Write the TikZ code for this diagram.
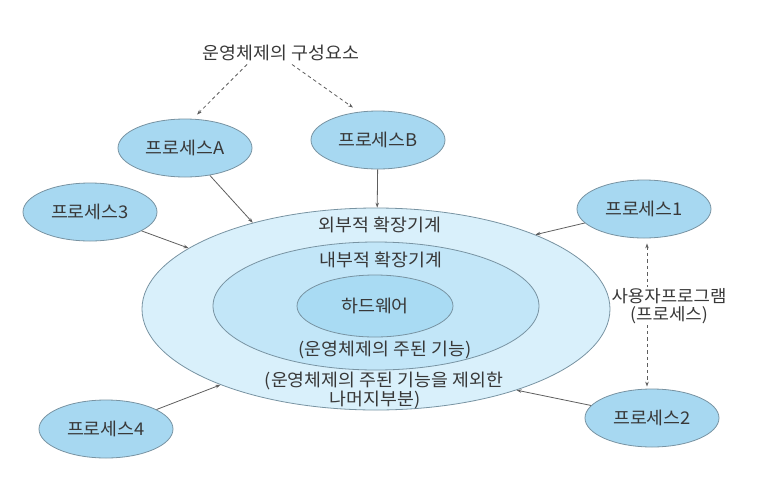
\documentclass[tikz,border=0pt]{standalone}
\usepackage{fontspec}
\setmainfont{Noto Sans CJK KR}[FakeStretch=1.05]
\usetikzlibrary{shapes.geometric,arrows.meta}
\definecolor{ringout}{HTML}{D9F0FB}
\definecolor{ringmid}{HTML}{C2E6F8}
\definecolor{ringin}{HTML}{A9DBF3}
\definecolor{procfill}{HTML}{A7D8F1}
\definecolor{edgegray}{HTML}{7893A2}
\definecolor{txtgray}{HTML}{383838}
\definecolor{linegray}{HTML}{5E5E5E}

\begin{document}
\begin{tikzpicture}[x=1pt,y=-1pt,
    every node/.style={font=\fontsize{17.5}{19.5}\selectfont,text=txtgray},
    ring/.style={ellipse,draw=edgegray,line width=0.8pt,inner sep=0pt},
    proc/.style={ring,fill=procfill,minimum width=134pt,minimum height=58pt},
    link/.style={draw=linegray,line width=0.8pt,-{Stealth[length=5pt,width=3.5pt]}},
    dasharrow/.style={link,dash pattern=on 3.5pt off 3pt}]
  \useasboundingbox (0,0) rectangle (772,499);
  % layers of the system
  \node[ring,fill=ringout,minimum width=468pt,minimum height=202pt] (os) at (376,309) {};
  \node[ring,fill=ringmid,minimum width=326pt,minimum height=128pt] (kernel) at (376,306) {};
  \node[ring,fill=ringin,minimum width=156pt,minimum height=62pt] (hw) at (375,306) {하드웨어};
  \node (extlbl) at (380,225) {외부적 확장기계};
  \node (intlbl) at (381,260) {내부적 확장기계};
  \node (mainlbl) at (385,350) {(운영체제의 주된 기능)};
  \node (restlbl) at (384,381) {(운영체제의 주된 기능을 제외한};
  \node (restlbl2) at (375,400) {나머지부분)};
  % processes
  \node (title) at (281,53) {운영체제의 구성요소};
  \node[proc] (pA) at (185,148) {프로세스A};
  \node[proc] (pB) at (378,140) {프로세스B};
  \node[proc] (p3) at (90,212) {프로세스3};
  \node[proc] (p4) at (106,429) {프로세스4};
  \node[proc] (p1) at (644,209) {프로세스1};
  \node[proc] (p2) at (652,418) {프로세스2};
  \draw[dasharrow] ([xshift=-34pt]title.south) -- ([xshift=12pt,yshift=4pt]pA.north);
  \draw[dasharrow] ([xshift=11pt]title.south) -- ([xshift=-25pt,yshift=3pt]pB.north);
  \draw[link] (pA) -- (os.145);
  \draw[link] (pB) -- (os);
  \draw[link] (p3) -- (os.162);
  \draw[link] (p4) -- (os.206);
  \draw[link] (p1) -- (os.25);
  \draw[link] (p2) -- (os.330);
  \draw[dasharrow,{Stealth[length=5pt,width=3.5pt]}-{Stealth[length=5pt,width=3.5pt]}]
    ([xshift=3pt,yshift=-5pt]p1.south) -- ([xshift=-5pt,yshift=2pt]p2.north);
  \node[fill=white,align=center,inner sep=1pt,font=\fontsize{17}{18}\selectfont] (user) at (669,306) {사용자프로그램\\(프로세스)};
\end{tikzpicture}
\end{document}
